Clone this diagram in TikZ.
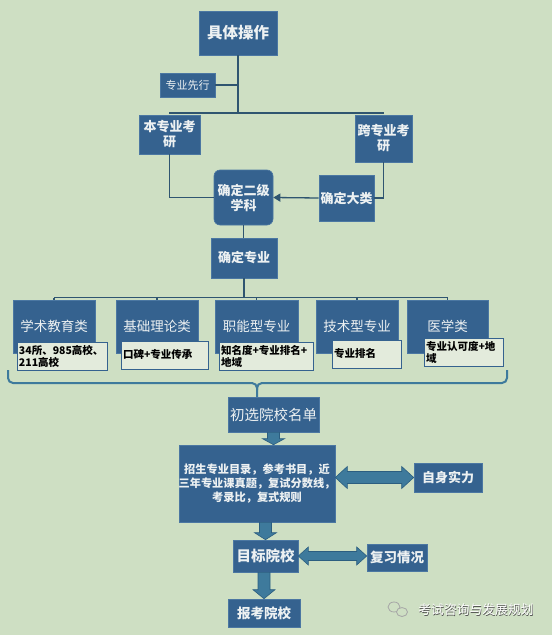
\documentclass[tikz,border=0pt]{standalone}
\usepackage{fontspec}
\setmainfont{Noto Sans CJK SC}
\usetikzlibrary{calc,arrows.meta}
\definecolor{bgc}{HTML}{CEDFC3}
\definecolor{boxc}{HTML}{35628F}
\definecolor{boxline}{HTML}{4B77A2}
\definecolor{txtc}{HTML}{EDF1F2}
\definecolor{linec}{HTML}{2F5570}
\definecolor{subfill}{HTML}{E3EBDC}
\definecolor{arrc}{HTML}{3E7A9C}
\definecolor{arrline}{HTML}{2C5E80}
\tikzset{
  box/.style={draw=boxline, line width=0.6pt, fill=boxc, text=txtc, inner sep=1pt, align=center, font=\bfseries\fontsize{13}{15}\selectfont},
  catbox/.style={draw=boxline, line width=0.6pt, fill=boxc, text=txtc, inner sep=1pt, align=center, font=\fontsize{13.5}{15}\selectfont},
  subbox/.style={draw=boxc, line width=1pt, fill=subfill, text=black, inner sep=2pt, align=left, font=\bfseries\fontsize{10.5}{12}\selectfont},
  conn/.style={draw=linec, line width=1.3pt},
  barrow/.style={fill=arrc, draw=arrline, line width=0.6pt, line join=miter},
}
\begin{document}
\begin{tikzpicture}[x=1pt,y=-1pt]
\fill[bgc] (0,0) rectangle (552,635);
\useasboundingbox (0,0) rectangle (552,635);

% top part
\node[box, minimum width=78, minimum height=44, font=\bfseries\fontsize{15.5}{17}\selectfont] (top) at (238,33) {具体操作};
\node[box, minimum width=55, minimum height=24, font=\fontsize{11}{13}\selectfont] (xf) at (187.5,85) {专业先行};
\node[box, minimum width=61, minimum height=39] (bz) at (169.5,134.5) {本专业考\\研};
\node[box, minimum width=57, minimum height=47] (kz) at (383.5,138.5) {跨专业考\\研};
\node[box, minimum width=59, minimum height=55, rounded corners=6pt] (ej) at (243.5,197.5) {确定二级\\学科};
\node[box, minimum width=55, minimum height=46] (dl) at (346.5,198) {确定大类};
\node[box, minimum width=66, minimum height=40] (zy) at (244,258) {确定专业};

\coordinate (hl) at (169,113);
\coordinate (hr) at (384,113);
\draw[conn] (top.south) -- (top.south |- hl);
\draw[conn] (hl) -- (hr);
\draw[conn] (xf.east) -- (xf.east -| top.south);
\draw[conn] (bz.south) |- (ej.west);
\draw[conn] (kz.south) |- (dl.east);
\draw[conn, -{Triangle[length=7pt,width=8pt]}] (dl.west) -- (ej.east);
\draw[conn] (ej.south) -- (ej.south |- zy.north);

% categories
\node[catbox, minimum width=82, minimum height=53] (c1) at (54,326.5) {学术教育类};
\node[catbox, minimum width=82, minimum height=53] (c2) at (157,326.5) {基础理论类};
\node[catbox, minimum width=83, minimum height=53] (c3) at (256.5,326.5) {职能型专业};
\node[catbox, minimum width=82, minimum height=53] (c4) at (357,326.5) {技术型专业};
\node[catbox, minimum width=81, minimum height=53] (c5) at (447.5,326.5) {医学类};

\coordinate (cl) at (54,297.5);
\coordinate (cr) at (447.5,297.5);
\draw[conn] (zy.south) -- (zy.south |- cl);
\draw[conn] (cl) -- (cr);
\foreach \c in {c1,c2,c3,c4,c5} \draw[conn] (\c.north |- cl) -- (\c.north);

\node[subbox, minimum width=90, minimum height=28, text width=86] (s1) at (62,356) {34所、985高校、\\211高校};
\node[subbox, minimum width=87, minimum height=28, text width=83] (s2) at (164.5,355) {口碑+专业传承};
\node[subbox, minimum width=94, minimum height=28, text width=90] (s3) at (266,356) {知名度+专业排名+\\地域};
\node[subbox, minimum width=69, minimum height=28, text width=65] (s4) at (366.5,354) {专业排名};
\node[subbox, minimum width=79, minimum height=28, text width=75] (s5) at (463.5,352) {专业认可度+地\\域};

% brace
\draw[draw=arrc, line width=2pt, rounded corners=5pt] (8,370) -- (8,383) -- (257,383) -- (257,397);
\draw[draw=arrc, line width=2pt, rounded corners=5pt] (257,390) |- (507,383) -- (507,370);

% lower part
\node[catbox, minimum width=91, minimum height=35, font=\fontsize{14.5}{16}\selectfont] (cx) at (273.5,414.5) {初选院校名单};
\node[box, minimum width=156, minimum height=77, font=\bfseries\fontsize{11.2}{14}\selectfont] (big) at (257,483.5) {招生专业目录，参考书目，近\\\makebox[0pt]{三年专业课真题，复试分数线，}\\考录比，复式规则};
\node[box, minimum width=68, minimum height=29] (zs) at (448,477.5) {自身实力};
\node[box, minimum width=65, minimum height=32, font=\bfseries\fontsize{14.5}{16}\selectfont] (mb) at (265.5,556) {目标院校};
\node[box, minimum width=60, minimum height=27, font=\bfseries\fontsize{13.5}{15}\selectfont] (fx) at (397,557.5) {复习情况};
\node[box, minimum width=72, minimum height=28, font=\bfseries\fontsize{13.5}{15}\selectfont] (bk) at (264,613) {报考院校};

% block arrows down
\path[barrow] let \p1=(cx.south), \p2=(big.north) in
  (\x1-6pt,\y1) -- (\x1+6pt,\y1) -- (\x1+6pt,\y2+6pt) -- (\x1+11pt,\y2+6pt) -- (\x1,\y2) -- (\x1-11pt,\y2+6pt) -- (\x1-6pt,\y2+6pt) -- cycle;
\path[barrow] let \p1=(big.south), \p2=(mb.north) in
  (\x2-6pt,\y1) -- (\x2+6pt,\y1) -- (\x2+6pt,\y2+7pt) -- (\x2+11pt,\y2+7pt) -- (\x2,\y2) -- (\x2-11pt,\y2+7pt) -- (\x2-6pt,\y2+7pt) -- cycle;
\path[barrow] let \p1=(mb.south), \p2=(bk.north) in
  (\x2-6pt,\y1) -- (\x2+6pt,\y1) -- (\x2+6pt,\y2+9pt) -- (\x2+11pt,\y2+9pt) -- (\x2,\y2) -- (\x2-11pt,\y2+9pt) -- (\x2-6pt,\y2+9pt) -- cycle;

% double block arrows
\path[barrow] let \p1=(big.east), \p2=(zs.west) in
  (\x1,\y2) -- (\x1+12pt,\y2+11pt) -- (\x1+12pt,\y2+6pt) -- (\x2-12pt,\y2+6pt) -- (\x2-12pt,\y2+11pt) -- (\x2,\y2)
  -- (\x2-12pt,\y2-11pt) -- (\x2-12pt,\y2-6pt) -- (\x1+12pt,\y2-6pt) -- (\x1+12pt,\y2-11pt) -- cycle;
\path[barrow] let \p1=(mb.east), \p2=(fx.west) in
  (\x1,\y1) -- (\x1+10pt,\y1+9pt) -- (\x1+10pt,\y1+4.5pt) -- (\x2-10pt,\y1+4.5pt) -- (\x2-10pt,\y1+9pt) -- (\x2,\y1)
  -- (\x2-10pt,\y1-9pt) -- (\x2-10pt,\y1-4.5pt) -- (\x1+10pt,\y1-4.5pt) -- (\x1+10pt,\y1-9pt) -- cycle;

% watermark
\draw[gray!70, line width=0.8pt] (394,607) ellipse (6 and 5);
\draw[gray!70, line width=0.8pt, fill=bgc] (402,612) ellipse (5.5 and 4.5);
\node[text=gray!60!black, font=\fontsize{12.8}{14}\selectfont] (wm0) at (476.5,611) {考试咨询与发展规划};
\node[text=white, font=\fontsize{12.8}{14}\selectfont] (wm) at (476,610) {考试咨询与发展规划};
\end{tikzpicture}
\end{document}
